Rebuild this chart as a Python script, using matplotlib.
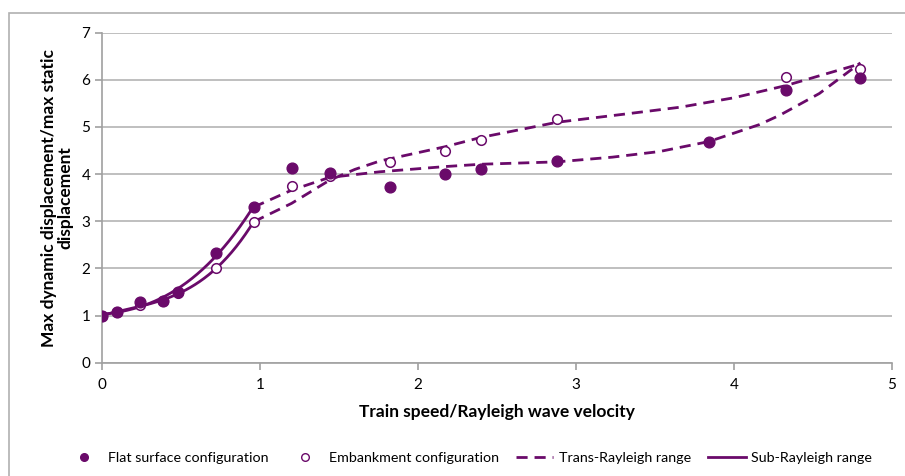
import numpy as np
import matplotlib.pyplot as plt
from matplotlib.lines import Line2D
from matplotlib.patches import Rectangle

# ====== Data ======
speed = [0.0, 0.097, 0.24, 0.385, 0.48, 0.72, 0.96, 1.20, 1.44, 1.82, 2.17, 2.40, 2.88, 3.84, 4.33, 4.80]
flat = [1.00, 1.08, 1.29, 1.31, 1.51, 2.33, 3.30, 4.14, 4.02, 3.73, 4.00, 4.11, 4.28, 4.69, 5.79, 6.03]

speed_emb = [0.0, 0.097, 0.24, 0.385, 0.48, 0.72, 0.96, 1.20, 1.44, 1.82, 2.17, 2.40, 2.88, 4.33, 4.80]
embankment = [1.00, 1.08, 1.22, 1.30, 1.47, 2.00, 2.99, 3.75, 3.95, 4.25, 4.49, 4.72, 5.16, 6.07, 6.23]

sub_limit = 0.96  # sub-Rayleigh trend up to here

# trans-Rayleigh trend curves
trans_flat_x = [0.96, 1.20, 1.44, 1.60, 1.76, 2.17, 2.40, 2.88, 3.23, 3.53, 3.84, 4.16, 4.29, 4.54, 4.80]
trans_flat_y = [3.30, 3.66, 3.93, 3.99, 4.05, 4.16, 4.21, 4.26, 4.36, 4.48, 4.69, 5.05, 5.25, 5.71, 6.36]
trans_emb_x = [0.96, 1.20, 1.44, 1.60, 1.76, 2.17, 2.40, 2.88, 3.30, 3.66, 4.00, 4.33, 4.80]
trans_emb_y = [2.99, 3.38, 3.87, 4.10, 4.28, 4.58, 4.78, 5.10, 5.27, 5.42, 5.62, 5.88, 6.34]

purple = '#6a0a6a'
plt.rcParams['font.family'] = ['Lato', 'DejaVu Sans']

fig = plt.figure(figsize=(9.05, 4.76), dpi=100)
ax = fig.add_axes([102 / 905, 1 - 362.7 / 476, 790 / 905, 330 / 476])

# chart frame (partially cropped in the original)
fig.patches.append(Rectangle((9 / 905, -0.1), 1.2, 1 - 13 / 476 + 0.1, transform=fig.transFigure,
                             fill=False, edgecolor='#b0b0b0', linewidth=1.2))


def trend(x, y, lo, hi, deg):
    x = np.asarray(x)
    y = np.asarray(y)
    m = (x >= lo - 1e-9) & (x <= hi + 1e-9)
    p = np.polyfit(x[m], y[m], deg)
    xs = np.linspace(lo, hi, 200)
    return xs, np.polyval(p, xs)


dash = (0, (4, 2.5))

# sub-Rayleigh trend lines
for xs_, ys_ in [(speed, flat), (speed_emb, embankment)]:
    xs, ys = trend(xs_, ys_, 0.0, sub_limit, 3)
    ax.plot(xs, ys, color=purple, lw=2, zorder=3)

# trans-Rayleigh trend lines
ax.plot(trans_flat_x, trans_flat_y, color=purple, lw=2, ls=dash, zorder=3)
ax.plot(trans_emb_x, trans_emb_y, color=purple, lw=2, ls=dash, zorder=3)

# data points
ax.scatter(speed_emb, embankment, s=48, facecolor='white', edgecolor=purple, linewidth=1.1, zorder=4)
ax.scatter(speed, flat, s=60, color=purple, zorder=5)

ax.set_xlim(0, 5)
ax.set_ylim(0, 7)
ax.set_xticks(range(6))
ax.set_yticks(range(8))
ax.grid(axis='y', color='#b4b4b4', linewidth=1.2)
ax.set_axisbelow(True)
for s in ['top', 'right']:
    ax.spines[s].set_visible(False)
for s in ['left', 'bottom']:
    ax.spines[s].set_color('#a0a0a0')
    ax.spines[s].set_linewidth(1.2)
ax.tick_params(colors='#a0a0a0', length=5, width=1.2, labelcolor='black', labelsize=11)
ax.tick_params(axis='x', pad=6)

ax.set_xlabel('Train speed/Rayleigh wave velocity', fontsize=12.5, fontweight='bold', labelpad=9)
ax.set_ylabel('Max dynamic displacement/max static\ndisplacement', fontsize=12.5,
              fontweight='bold', labelpad=6, linespacing=1.0)

handles = [
    Line2D([], [], ls='none', marker='o', color=purple, markersize=5.5),
    Line2D([], [], ls='none', marker='o', markerfacecolor='white', markeredgecolor=purple, markersize=5.5),
    Line2D([], [], color=purple, lw=2, ls=dash),
    Line2D([], [], color=purple, lw=2),
]
labels = ['Flat surface configuration', 'Embankment configuration',
          'Trans-Rayleigh range', 'Sub-Rayleigh range']
fig.legend(handles, labels, loc='center', bbox_to_anchor=(0.518, 1 - 458 / 476), ncol=4,
           frameon=False, fontsize=10.3, handlelength=2.6, columnspacing=1.2, handletextpad=0.4)

fig.savefig('out.png', dpi=100)
